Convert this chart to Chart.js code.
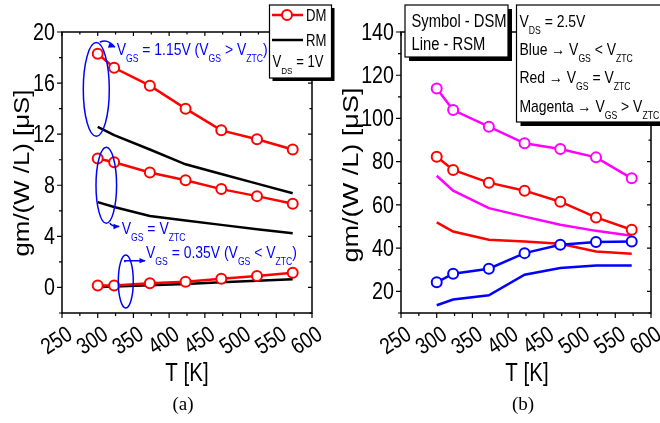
<!DOCTYPE html>
<html>
<head>
<meta charset="utf-8">
<script src="https://cdn.jsdelivr.net/npm/chart.js@4.4.1/dist/chart.umd.min.js"></script>
<style>
  html, body { margin: 0; padding: 0; background: #fff; }
  #wrap { position: relative; width: 660px; height: 423px; overflow: hidden; }
  #cA { position: absolute; left: 0; top: 0; }
  #cB { position: absolute; left: 330px; top: 0; }
</style>
</head>
<body>
<div id="wrap">
  <canvas id="cA" width="340" height="423"></canvas>
  <canvas id="cB" width="330" height="423"></canvas>
</div>
<script>
// temperatures of the measured points [K]
const temps = [300, 323, 373, 423, 473, 523, 573];

// (a) V_DS = 1V : DM = symbols, RM = lines
const dmHigh = [18.3, 17.2, 15.8, 14.0, 12.3, 11.6, 10.8];
const rmHigh = [12.58, 11.92, 10.8, 9.64, 8.88, 8.13, 7.37];
const dmZtc  = [10.1, 9.8, 9.0, 8.4, 7.7, 7.15, 6.55];
const rmZtc  = [6.68, 6.3, 5.6, 5.25, 4.9, 4.55, 4.25];
const dmLow  = [0.15, 0.15, 0.32, 0.45, 0.68, 0.9, 1.15];
const rmLow  = [0.03, 0.08, 0.18, 0.28, 0.4, 0.52, 0.65];

// (b) V_DS = 2.5V : DSM = symbols, RSM = lines
const dsmHigh = [113.9, 103.9, 96.2, 88.5, 85.9, 82.0, 72.3];
const dsmZtc  = [82.3, 76.2, 70.3, 66.6, 61.5, 54.2, 48.5];
const dsmLow  = [24.2, 28.2, 30.5, 37.7, 41.6, 42.8, 43.1];
const rsmHigh = [73.5, 66.6, 58.5, 54.6, 50.8, 48.0, 45.7];
const rsmZtc  = [51.9, 47.7, 43.9, 43.1, 42.0, 38.5, 37.4];
const rsmLow  = [13.6, 16.2, 18.2, 27.7, 30.8, 32.0, 32.0];

// axis ticks
const xTicks  = [250, 300, 350, 400, 450, 500, 550, 600];
const yTicksA = [0, 4, 8, 12, 16, 20];
const yTicksB = [20, 40, 60, 80, 100, 120, 140];

// text (rich: [text, isSubscript])
const noteHigh = [['V',0],['GS',1],[' = 1.15V (V',0],['GS',1],[' > V',0],['ZTC',1],[')',0]];
const noteZtc  = [['V',0],['GS',1],[' = V',0],['ZTC',1]];
const noteLow  = [['V',0],['GS',1],[' = 0.35V (V',0],['GS',1],[' < V',0],['ZTC',1],[')',0]];
const vdsA = [['V',0],['DS',1],[' = 1V',0]];
const boxB1 = ['Symbol - DSM', 'Line - RSM'];
const boxB2 = [
  [['V',0],['DS',1],[' = 2.5V',0]],
  [['Blue \u2192 V',0],['GS',1],[' < V',0],['ZTC',1]],
  [['Red \u2192 V',0],['GS',1],[' = V',0],['ZTC',1]],
  [['Magenta \u2192 V',0],['GS',1],[' > V',0],['ZTC',1]]
];
const yTitle = 'gm/(W /L) [\u03bcS]';
const xTitle = 'T [K]';

const SANS = '"Liberation Sans", Arial, sans-serif';
const SERIF = '"Liberation Serif", "Times New Roman", serif';
const NARROW_X = 0.82;   // horizontal squeeze to imitate Arial Narrow
const RED = '#ff0000', BLUE = '#0000ff', MAG = '#ff00ff';

Chart.defaults.font.family = SANS;
Chart.defaults.color = '#000';

const pts = arr => temps.map((t, i) => ({ x: t, y: arr[i] }));

function symSet(arr, color) {
  return { data: pts(arr), borderColor: color, borderWidth: 2.5, pointRadius: 5,
    pointBorderWidth: 2, pointBackgroundColor: '#fff', pointBorderColor: color, tension: 0 };
}
function lineSet(arr, color) {
  return { data: pts(arr), borderColor: color, borderWidth: 2.5, pointRadius: 0, tension: 0 };
}

// narrow text at (x,y), optional rotation
function txt(ctx, s, x, y, size, align, baseline, rot, color, family) {
  ctx.save();
  ctx.translate(x, y);
  if (rot) ctx.rotate(rot);
  ctx.scale(NARROW_X, 1);
  ctx.font = `${size}px ${family || SANS}`;
  ctx.fillStyle = color || '#000';
  ctx.textAlign = align;
  ctx.textBaseline = baseline;
  ctx.fillText(s, 0, 0);
  ctx.restore();
}

function drawRich(ctx, x, y, parts, size, color) {
  let cx = x;
  parts.forEach(([t, sub]) => {
    const s = sub ? size * 0.62 : size;
    txt(ctx, t, cx, y + (sub ? size * 0.42 : 0), s, 'left', 'alphabetic', 0, color);
    ctx.font = `${s}px ${SANS}`;
    cx += ctx.measureText(t).width * NARROW_X;
  });
}

function frameAndTicks(chart, xMinor, yMinor, yTicks) {
  const { ctx, chartArea: a } = chart;
  const xs = chart.scales.x, ys = chart.scales.y;
  ctx.save();
  ctx.strokeStyle = '#000';
  ctx.lineWidth = 1.5;
  ctx.strokeRect(a.left, a.top, a.right - a.left, a.bottom - a.top);
  ctx.lineWidth = 1.2;
  ctx.beginPath();
  for (let v = xs.min; v <= xs.max + 1e-6; v += xMinor) {
    const p = xs.getPixelForValue(v);
    const major = xTicks.includes(v);
    ctx.moveTo(p, a.bottom); ctx.lineTo(p, a.bottom + (major ? 5 : 3));
    ctx.moveTo(p, a.top); ctx.lineTo(p, a.top + (major ? 4 : 2.5));
  }
  const start = Math.ceil(ys.min / yMinor) * yMinor;
  for (let v = start; v <= ys.max + 1e-6; v += yMinor) {
    const p = ys.getPixelForValue(v);
    const major = yTicks.includes(v);
    ctx.moveTo(a.left, p); ctx.lineTo(a.left - (major ? 5 : 3), p);
    ctx.moveTo(a.right, p); ctx.lineTo(a.right - (major ? 4 : 2.5), p);
  }
  ctx.stroke();
  ctx.restore();
  // tick labels
  xTicks.forEach(v => {
    txt(ctx, String(v), xs.getPixelForValue(v) + 2, a.bottom + 10, 23, 'right', 'top', -33 * Math.PI / 180);
  });
  yTicks.forEach(v => {
    txt(ctx, String(v), a.left - 7, ys.getPixelForValue(v) + 1, 24, 'right', 'middle', 0);
  });
}

function titles(chart, yx, yy, yLen, xx, label) {
  const ctx = chart.ctx;
  ctx.save();
  ctx.fillStyle = '#000';
  ctx.font = `22px ${SANS}`;
  const w = ctx.measureText(yTitle).width;
  ctx.translate(yx, yy);
  ctx.rotate(-Math.PI / 2);
  ctx.scale(yLen / w, 1);
  ctx.textAlign = 'center';
  ctx.textBaseline = 'middle';
  ctx.fillText(yTitle, 0, 0);
  ctx.restore();
  txt(ctx, xTitle, xx, 374, 25, 'center', 'middle', 0);
  ctx.save();
  ctx.fillStyle = '#000';
  ctx.textAlign = 'center';
  ctx.textBaseline = 'middle';
  ctx.font = `19px ${SERIF}`;
  ctx.fillText(label, xx - 4, 405);
  ctx.restore();
}

function shadowBox(ctx, x, y, w, h, off) {
  ctx.fillStyle = '#000';
  ctx.fillRect(x + off, y + off, w, h);
  ctx.fillStyle = '#fff';
  ctx.fillRect(x, y, w, h);
  ctx.strokeStyle = '#000';
  ctx.lineWidth = 1.2;
  ctx.strokeRect(x, y, w, h);
}

function scalesFor(min, max, yWidth) {
  return {
    x: {
      type: 'linear', min: 250, max: 600,
      afterFit: s => { s.height = 110; },
      ticks: { display: false },
      grid: { display: false, drawTicks: false }, border: { display: false }
    },
    y: {
      type: 'linear', min: min, max: max,
      afterFit: s => { s.width = yWidth; },
      ticks: { display: false },
      grid: { display: false, drawTicks: false }, border: { display: false }
    }
  };
}

// ---------- panel (a) ----------
const annotA = {
  id: 'annotA',
  afterDraw(chart) {
    const { ctx } = chart;
    const xs = chart.scales.x, ys = chart.scales.y;
    const X = v => xs.getPixelForValue(v), Y = v => ys.getPixelForValue(v);
    frameAndTicks(chart, 25, 2, yTicksA);
    titles(chart, 23, 173, 167, 187, '(a)');

    ctx.save();
    ctx.strokeStyle = BLUE;
    ctx.fillStyle = BLUE;
    ctx.lineWidth = 1.5;
    // ellipses [T, value, halfWidth K, halfHeight units]
    [[298, 15.5, 18.2, 3.67], [312, 8.0, 14.4, 2.97], [339.3, 0.47, 10.5, 2.08]].forEach(e => {
      const cx = X(e[0]), cy = Y(e[1]);
      ctx.beginPath();
      ctx.ellipse(cx, cy, X(e[0] + e[2]) - cx, cy - Y(e[1] + e[3]), 0, 0, Math.PI * 2);
      ctx.stroke();
    });
    const head = (x, y, ang) => {
      ctx.beginPath();
      ctx.moveTo(x, y);
      ctx.lineTo(x - 7 * Math.cos(ang - 0.4), y - 7 * Math.sin(ang - 0.4));
      ctx.lineTo(x - 7 * Math.cos(ang + 0.4), y - 7 * Math.sin(ang + 0.4));
      ctx.closePath();
      ctx.fill();
    };
    // arrow 1 (curved hook from ellipse top)
    ctx.beginPath();
    ctx.moveTo(X(303), Y(19.2));
    ctx.quadraticCurveTo(X(314), Y(19.5), X(324), Y(18.8));
    ctx.stroke();
    head(X(324), Y(18.8), 0.35);
    // arrow 2
    ctx.beginPath();
    ctx.moveTo(X(317), Y(5.05));
    ctx.quadraticCurveTo(X(319), Y(4.78), X(330), Y(4.78));
    ctx.stroke();
    head(X(331), Y(4.78), 0);
    // arrow 3
    ctx.beginPath();
    ctx.moveTo(X(338), Y(1.98));
    ctx.lineTo(X(338), Y(2.1));
    ctx.lineTo(X(366), Y(2.1));
    ctx.stroke();
    head(X(367.5), Y(2.1), 0);
    ctx.restore();

    ctx.save();
    drawRich(ctx, X(326.5), Y(18.18), noteHigh, 17, BLUE);
    drawRich(ctx, X(333.6), Y(4.2), noteZtc, 17, BLUE);
    drawRich(ctx, X(367.6), Y(2.28), noteLow, 17, BLUE);

    // legend box
    shadowBox(ctx, 269.5, 5, 62, 73, 3);
    ctx.strokeStyle = RED; ctx.lineWidth = 2.5;
    ctx.beginPath(); ctx.moveTo(272, 15); ctx.lineTo(303, 15); ctx.stroke();
    ctx.fillStyle = '#fff'; ctx.lineWidth = 2;
    ctx.beginPath(); ctx.arc(287, 15, 5, 0, Math.PI * 2); ctx.fill(); ctx.stroke();
    ctx.strokeStyle = '#000'; ctx.lineWidth = 2.5;
    ctx.beginPath(); ctx.moveTo(272, 40); ctx.lineTo(303, 40); ctx.stroke();
    drawRich(ctx, 306, 21, [['DM', 0]], 16, '#000');
    drawRich(ctx, 306, 45.5, [['RM', 0]], 16, '#000');
    drawRich(ctx, 272.5, 67, vdsA, 16, '#000');
    ctx.restore();
  }
};

new Chart(document.getElementById('cA'), {
  type: 'line',
  data: {
    datasets: [
      symSet(dmHigh, RED), symSet(dmZtc, RED), symSet(dmLow, RED),
      lineSet(rmHigh, '#000'), lineSet(rmZtc, '#000'), lineSet(rmLow, '#000')
    ]
  },
  options: {
    responsive: false, animation: false,
    layout: { padding: { top: 32, left: 0, right: 28, bottom: 0 } },
    plugins: { legend: { display: false }, tooltip: { enabled: false } },
    scales: scalesFor(-2, 20, 62)
  },
  plugins: [annotA]
});

// ---------- panel (b) ----------
const annotB = {
  id: 'annotB',
  afterDraw(chart) {
    const { ctx } = chart;
    frameAndTicks(chart, 25, 10, yTicksB);
    titles(chart, 22, 175, 175, 197, '(b)');
    ctx.save();
    // boxes (canvas B starts at page x = 330)
    shadowBox(ctx, 75, 5, 103, 52, 4);
    txt(ctx, boxB1[0], 81.5, 27, 18, 'left', 'alphabetic', 0);
    txt(ctx, boxB1[1], 81.5, 50, 18, 'left', 'alphabetic', 0);
    shadowBox(ctx, 186.5, 5, 150, 117, 4);
    const ys = [27, 55, 83, 112];
    boxB2.forEach((line, i) => drawRich(ctx, 189.5, ys[i], line, 17, '#000'));
    ctx.restore();
  }
};

new Chart(document.getElementById('cB'), {
  type: 'line',
  data: {
    datasets: [
      symSet(dsmHigh, MAG), symSet(dsmZtc, RED), symSet(dsmLow, BLUE),
      lineSet(rsmHigh, MAG), lineSet(rsmZtc, RED), lineSet(rsmLow, BLUE)
    ]
  },
  options: {
    responsive: false, animation: false,
    layout: { padding: { top: 32, left: 0, right: 9, bottom: 0 } },
    plugins: { legend: { display: false }, tooltip: { enabled: false } },
    scales: scalesFor(10, 140, 71)
  },
  plugins: [annotB]
});
</script>
</body>
</html>
